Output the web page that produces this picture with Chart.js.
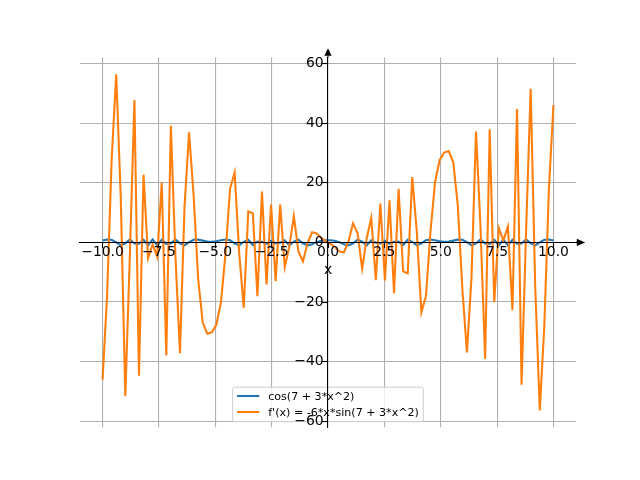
<!DOCTYPE html>
<html><head><meta charset="utf-8">
<script src="https://cdn.jsdelivr.net/npm/chart.js@4"></script>
<style>html,body{margin:0;padding:0;background:#fff;overflow:hidden}</style>
</head><body>
<canvas id="c" width="640" height="480"></canvas>
<script>
const xs = [
-10.000,-9.798,-9.596,-9.394,-9.192,-8.990,-8.788,-8.586,-8.384,-8.182,
-7.980,-7.778,-7.576,-7.374,-7.172,-6.970,-6.768,-6.566,-6.364,-6.162,
-5.960,-5.758,-5.556,-5.354,-5.152,-4.949,-4.747,-4.545,-4.343,-4.141,
-3.939,-3.737,-3.535,-3.333,-3.131,-2.929,-2.727,-2.525,-2.323,-2.121,
-1.919,-1.717,-1.515,-1.313,-1.111,-0.909,-0.707,-0.505,-0.303,-0.101,
0.101,0.303,0.505,0.707,0.909,1.111,1.313,1.515,1.717,1.919,
2.121,2.323,2.525,2.727,2.929,3.131,3.333,3.535,3.737,3.939,
4.141,4.343,4.545,4.747,4.949,5.152,5.354,5.556,5.758,5.960,
6.162,6.364,6.566,6.768,6.970,7.172,7.374,7.576,7.778,7.980,
8.182,8.384,8.586,8.788,8.990,9.192,9.394,9.596,9.798,10.000];

const cosValues = [
0.640,0.953,0.876,0.009,-0.962,-0.297,0.997,-0.376,-0.457,0.886,
-0.994,1.000,-0.994,0.892,-0.472,-0.355,0.994,-0.329,-0.950,0.055,
0.899,0.934,0.591,0.299,0.219,0.373,0.709,0.991,0.722,-0.328,
-0.989,0.208,0.871,-0.874,0.283,0.242,-0.506,0.542,-0.361,-0.078,
0.697,-0.990,0.248,0.924,-0.288,-0.999,-0.602,0.089,0.547,0.733,
0.733,0.547,0.089,-0.602,-0.999,-0.288,0.924,0.248,-0.990,0.697,
-0.078,-0.361,0.542,-0.506,0.242,0.283,-0.874,0.871,0.208,-0.989,
-0.328,0.722,0.991,0.709,0.373,0.219,0.299,0.591,0.934,0.899,
0.055,-0.950,-0.329,0.994,-0.355,-0.472,0.892,-0.994,1.000,-0.994,
0.886,-0.457,-0.376,0.997,-0.297,-0.962,0.009,0.876,0.953,0.640];

const derivValues = [
-46.10,-17.85,27.80,56.36,15.14,-51.50,-4.25,47.74,-44.75,22.73,
-5.31,-0.66,-4.79,20.04,-37.94,39.10,-4.41,-37.19,11.93,36.91,
15.65,-12.33,-26.89,-30.65,-30.16,-27.56,-20.09,-3.58,18.04,23.47,
-3.52,-21.94,10.43,9.72,-18.02,17.05,-14.11,12.73,-13.00,12.69,
-8.26,-1.42,8.81,-3.02,-6.39,-0.30,3.39,3.02,1.52,0.41,
-0.41,-1.52,-3.02,-3.39,0.30,6.39,3.02,-8.81,1.42,8.26,
-12.69,13.00,-12.73,14.11,-17.05,18.02,-9.72,-10.43,21.94,3.52,
-23.47,-18.04,3.58,20.09,27.56,30.16,30.65,26.89,12.33,-15.65,
-36.91,-11.93,37.19,4.41,-39.10,37.94,-20.04,4.79,0.66,5.31,
-22.73,44.75,-47.74,4.25,51.50,-15.14,-56.36,-27.80,17.85,46.10];

const xTicks = [-10, -7.5, -5, -2.5, 0, 2.5, 5, 7.5, 10];
const yTicks = [-60, -40, -20, 0, 20, 40, 60];
const seriesLabels = ['cos(7 + 3*x^2)', "f'(x) = -6*x*sin(7 + 3*x^2)"];
const seriesColors = ['#1f77b4', '#ff7f0e'];
const xLabel = 'x';

const FONT = "'DejaVu Sans', sans-serif";
const minus = s => s.replace('-', '\u2212');
const setTicks = arr => scale => { scale.ticks = arr.map(v => ({ value: v })); };
const pts = ys => xs.map((x, i) => ({ x: x, y: ys[i] }));

const decor = {
  id: 'decor',
  afterDatasetsDraw(chart) {
    const ctx = chart.ctx, a = chart.chartArea;
    ctx.save();
    const fs = 11.1;
    ctx.font = fs + 'px ' + FONT;
    const tw = Math.max(...seriesLabels.map(t => ctx.measureText(t).width));
    const w = 4.4 * 2 + 22.2 + 8.9 + tw;
    const h = 34.5;
    const cx = (a.left + a.right) / 2;
    const x0 = cx - w / 2, y1 = a.bottom - 5.5, y0 = y1 - h;
    ctx.beginPath();
    if (ctx.roundRect) ctx.roundRect(x0, y0, w, h, 2); else ctx.rect(x0, y0, w, h);
    ctx.fillStyle = 'rgba(255,255,255,0.8)';
    ctx.fill();
    ctx.strokeStyle = '#cccccc';
    ctx.lineWidth = 1;
    ctx.stroke();
    const rows = [y0 + 8.8, y0 + 24.8];
    seriesLabels.forEach((t, i) => {
      ctx.beginPath();
      ctx.moveTo(x0 + 4.4, rows[i]);
      ctx.lineTo(x0 + 4.4 + 22.2, rows[i]);
      ctx.strokeStyle = seriesColors[i];
      ctx.lineWidth = 2.08;
      ctx.stroke();
      ctx.fillStyle = '#000';
      ctx.textBaseline = 'middle';
      ctx.textAlign = 'left';
      ctx.fillText(t, x0 + 4.4 + 22.2 + 8.9, rows[i] + 0.8);
    });
    ctx.restore();
  },
  afterDraw(chart) {
    const ctx = chart.ctx, a = chart.chartArea;
    const zx = chart.scales.x.getPixelForValue(0);
    const zy = chart.scales.y.getPixelForValue(0);
    ctx.save();
    ctx.fillStyle = '#000';
    ctx.strokeStyle = '#000';
    ctx.lineWidth = 1.1;
    ctx.beginPath();
    ctx.moveTo(zx, a.top); ctx.lineTo(zx, a.top - 2);
    ctx.stroke();
    ctx.beginPath();
    ctx.moveTo(zx, a.top - 9.4);
    ctx.lineTo(zx - 3.6, a.top - 1.8);
    ctx.lineTo(zx + 3.6, a.top - 1.8);
    ctx.closePath();
    ctx.fill();
    ctx.beginPath();
    ctx.moveTo(a.right + 0.8, zy - 3.7);
    ctx.lineTo(a.right + 9.2, zy);
    ctx.lineTo(a.right + 0.8, zy + 3.7);
    ctx.closePath();
    ctx.fill();
    ctx.beginPath();
    ctx.moveTo(a.right, zy); ctx.lineTo(a.right + 1, zy);
    ctx.stroke();
    ctx.font = '13.9px ' + FONT;
    ctx.textAlign = 'center';
    ctx.textBaseline = 'alphabetic';
    ctx.fillText(xLabel, (a.left + a.right) / 2, zy + 32);
    ctx.restore();
  }
};

const gridOpts = { color: '#b0b0b0', lineWidth: 1.1, drawTicks: false };
const tickMarkOpts = { display: true, drawOnChartArea: false, drawTicks: true, tickLength: 4.9, tickColor: '#000', tickWidth: 1.1, color: '#000', z: 1 };
const tickFont = { family: FONT, size: 13.9, lineHeight: 1 };

new Chart(document.getElementById('c'), {
  type: 'line',
  data: {
    datasets: [
      { label: seriesLabels[0], data: pts(cosValues), borderColor: seriesColors[0], backgroundColor: seriesColors[0],
        borderWidth: 2.08, pointRadius: 0, fill: false, tension: 0, order: 1, xAxisID: 'x', yAxisID: 'y' },
      { label: seriesLabels[1], data: pts(derivValues), borderColor: seriesColors[1], backgroundColor: seriesColors[1],
        borderWidth: 2.08, pointRadius: 0, fill: false, tension: 0, order: 0, xAxisID: 'x', yAxisID: 'y' }
    ]
  },
  options: {
    responsive: false,
    animation: false,
    events: [],
    layout: { padding: { left: 80, right: 64, top: 57.6, bottom: 52.8 } },
    plugins: { legend: { display: false }, tooltip: { enabled: false } },
    scales: {
      x: { type: 'linear', axis: 'x', min: -11, max: 11, position: { y: 0 }, afterBuildTicks: setTicks(xTicks),
           grid: gridOpts, border: { display: false }, ticks: { display: false } },
      y: { type: 'linear', axis: 'y', min: -62, max: 62, position: { x: 0 }, afterBuildTicks: setTicks(yTicks),
           grid: gridOpts, border: { display: false }, ticks: { display: false } },
      x2: { type: 'linear', axis: 'x', min: -11, max: 11, position: { y: 0 }, afterBuildTicks: setTicks(xTicks),
            grid: tickMarkOpts, border: { display: true, color: '#000', width: 1.1, z: 1 },
            ticks: { display: true, z: 1, autoSkip: false, maxRotation: 0, minRotation: 0, padding: -2, color: '#000', font: tickFont,
                     callback: v => minus(Number(v).toFixed(1)) } },
      y2: { type: 'linear', axis: 'y', min: -62, max: 62, position: { x: 0 }, afterBuildTicks: setTicks(yTicks),
            grid: tickMarkOpts, border: { display: true, color: '#000', width: 1.1, z: 1 },
            ticks: { display: true, z: 1, autoSkip: false, padding: 2, color: '#000', font: tickFont,
                     callback: v => minus(String(v)) + ' ' } }
    }
  },
  plugins: [decor]
});
</script>
</body></html>
